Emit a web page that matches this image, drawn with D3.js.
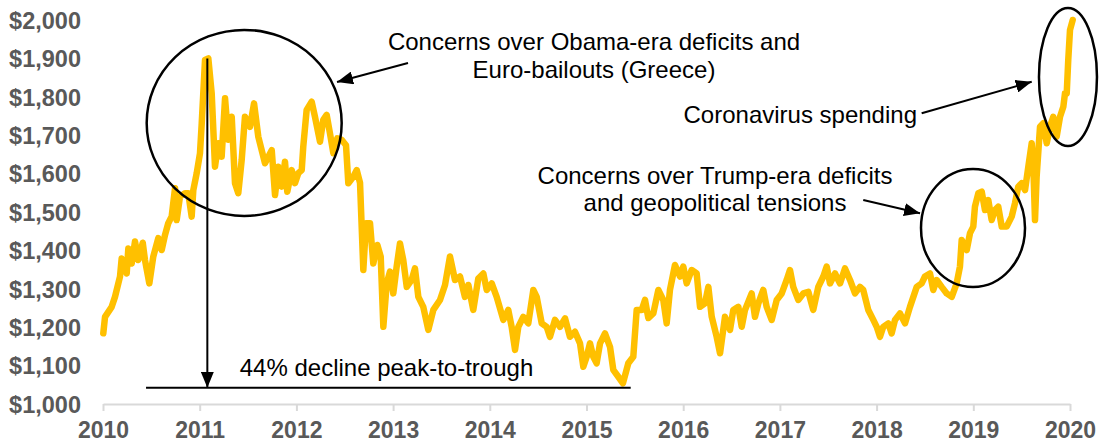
<!DOCTYPE html>
<html>
<head>
<meta charset="utf-8">
<script src="https://cdn.jsdelivr.net/npm/d3@7"></script>
<style>
    body { margin: 0; background: #fff; }
    svg { display: block; }
</style>
</head>
<body>
<script>
// data (x = position on the year axis, y = gold price in $)
const years = [
    2010.003, 2010.021, 2010.090, 2010.124, 2010.176, 2010.193, 2010.245, 2010.262, 2010.297, 2010.331,
    2010.365, 2010.411, 2010.434, 2010.479, 2010.520, 2010.572, 2010.607, 2010.641, 2010.675, 2010.710,
    2010.745, 2010.762, 2010.796, 2010.848, 2010.882, 2010.917, 2010.934, 2010.969, 2011.003, 2011.021,
    2011.055, 2011.089, 2011.124, 2011.158, 2011.192, 2011.227, 2011.262, 2011.296, 2011.331, 2011.365,
    2011.399, 2011.434, 2011.468, 2011.520, 2011.562, 2011.606, 2011.675, 2011.745, 2011.779, 2011.813,
    2011.848, 2011.882, 2011.906, 2011.951, 2011.985, 2012.020, 2012.055, 2012.071, 2012.106, 2012.158,
    2012.192, 2012.244, 2012.278, 2012.313, 2012.347, 2012.382, 2012.423, 2012.468, 2012.513, 2012.537,
    2012.588, 2012.624, 2012.658, 2012.692, 2012.720, 2012.761, 2012.795, 2012.837, 2012.872, 2012.899,
    2012.934, 2012.968, 2013.002, 2013.037, 2013.071, 2013.105, 2013.141, 2013.192, 2013.226, 2013.261,
    2013.312, 2013.364, 2013.416, 2013.485, 2013.537, 2013.588, 2013.640, 2013.692, 2013.743, 2013.778,
    2013.829, 2013.881, 2013.933, 2013.968, 2014.020, 2014.071, 2014.140, 2014.191, 2014.226, 2014.261,
    2014.295, 2014.346, 2014.398, 2014.450, 2014.485, 2014.537, 2014.588, 2014.622, 2014.674, 2014.726,
    2014.778, 2014.829, 2014.881, 2014.933, 2014.967, 2015.002, 2015.036, 2015.070, 2015.105, 2015.140,
    2015.191, 2015.243, 2015.277, 2015.329, 2015.377, 2015.432, 2015.484, 2015.519, 2015.571, 2015.605,
    2015.639, 2015.691, 2015.743, 2015.794, 2015.829, 2015.863, 2015.915, 2015.967, 2016.001, 2016.036,
    2016.088, 2016.139, 2016.174, 2016.225, 2016.260, 2016.295, 2016.346, 2016.381, 2016.432, 2016.484,
    2016.518, 2016.570, 2016.605, 2016.639, 2016.708, 2016.742, 2016.777, 2016.828, 2016.863, 2016.915,
    2016.967, 2017.019, 2017.070, 2017.104, 2017.138, 2017.190, 2017.242, 2017.294, 2017.345, 2017.397,
    2017.449, 2017.484, 2017.518, 2017.570, 2017.622, 2017.673, 2017.725, 2017.777, 2017.828, 2017.862,
    2017.914, 2017.966, 2018.001, 2018.035, 2018.069, 2018.121, 2018.156, 2018.190, 2018.242, 2018.294,
    2018.345, 2018.415, 2018.466, 2018.500, 2018.552, 2018.586, 2018.621, 2018.673, 2018.725, 2018.777,
    2018.828, 2018.862, 2018.880, 2018.932, 2018.966, 2019.000, 2019.017, 2019.052, 2019.087, 2019.121,
    2019.155, 2019.190, 2019.224, 2019.258, 2019.294, 2019.345, 2019.397, 2019.431, 2019.465, 2019.500,
    2019.535, 2019.569, 2019.604, 2019.621, 2019.638, 2019.655, 2019.690, 2019.724, 2019.759, 2019.793,
    2019.827, 2019.862, 2019.897, 2019.931, 2019.948, 2019.966, 2019.982, 2020.000, 2020.028
];
const prices = [
    1184, 1227, 1253, 1279, 1332, 1379, 1340, 1405, 1366, 1423,
    1375, 1420, 1375, 1314, 1384, 1432, 1401, 1440, 1471, 1488,
    1562, 1479, 1540, 1549, 1549, 1488, 1557, 1601, 1653, 1731,
    1896, 1900, 1809, 1618, 1679, 1644, 1796, 1688, 1748, 1575,
    1549, 1635, 1748, 1722, 1783, 1696, 1627, 1661, 1544, 1618,
    1566, 1631, 1553, 1609, 1575, 1601, 1609, 1670, 1766, 1787,
    1748, 1683, 1740, 1753, 1705, 1653, 1692, 1688, 1674, 1575,
    1592, 1609, 1576, 1349, 1471, 1471, 1366, 1414, 1384, 1201,
    1314, 1345, 1288, 1358, 1418, 1375, 1305, 1323, 1353, 1279,
    1253, 1193, 1245, 1271, 1310, 1384, 1323, 1332, 1279, 1310,
    1245, 1327, 1340, 1297, 1314, 1279, 1219, 1245, 1201, 1141,
    1201, 1227, 1210, 1297, 1279, 1210, 1201, 1175, 1219, 1201,
    1223, 1175, 1188, 1158, 1097, 1123, 1158, 1123, 1106, 1158,
    1184, 1149, 1089, 1071, 1054, 1106, 1123, 1245, 1245, 1271,
    1224, 1236, 1297, 1271, 1210, 1297, 1362, 1332, 1358, 1314,
    1349, 1340, 1253, 1262, 1305, 1227, 1175, 1132, 1227, 1193,
    1245, 1253, 1201, 1245, 1288, 1227, 1262, 1297, 1253, 1219,
    1271, 1288, 1323, 1349, 1305, 1271, 1288, 1292, 1245, 1305,
    1332, 1358, 1314, 1340, 1314, 1353, 1323, 1288, 1305, 1297,
    1245, 1219, 1201, 1175, 1201, 1210, 1184, 1219, 1236, 1210,
    1253, 1305, 1314, 1332, 1340, 1297, 1323, 1305, 1288, 1279,
    1314, 1358, 1427, 1401, 1445, 1462, 1514, 1549, 1553, 1505,
    1531, 1479, 1505, 1514, 1462, 1462, 1488, 1523, 1566, 1575,
    1557, 1618, 1679, 1618, 1479, 1592, 1722, 1731, 1679, 1722,
    1748, 1696, 1748, 1774, 1809, 1809, 1896, 1974, 2000
];
const yearTicks = [2010, 2011, 2012, 2013, 2014, 2015, 2016, 2017, 2018, 2019, 2020];
const priceTicks = [1000, 1100, 1200, 1300, 1400, 1500, 1600, 1700, 1800, 1900, 2000];

// create svg canvas
const canvWidth = 1099, canvHeight = 444;
const svg = d3.select("body").append("svg")
    .attr("width", canvWidth)
    .attr("height", canvHeight);

const tickColor = "#595959";
const gold = "#FFC000";

// 1. scales
const xScale = d3.scaleLinear()
    .domain([2010, 2020])
    .range([103, 1070]);

const yScale = d3.scaleLinear()
    .domain([1000, 2000])
    .range([404, 20]);

// 2. axes
const xAxis = d3.axisBottom(xScale)
    .tickValues(yearTicks)
    .tickFormat(d3.format("d"))
    .tickSize(7)
    .tickSizeOuter(0)
    .tickPadding(11);

const gx = svg.append("g")
    .attr("id", "x-axis")
    .attr("transform", "translate(0," + yScale(1000) + ")")
    .call(xAxis);
gx.select(".domain").attr("stroke", "#d9d9d9").attr("stroke-width", 2);
gx.selectAll(".tick line").attr("stroke", "#d9d9d9").attr("stroke-width", 2);
gx.selectAll(".tick text")
    .attr("fill", tickColor)
    .attr("font-family", "Liberation Sans, Arial, sans-serif")
    .attr("font-weight", "bold")
    .attr("font-size", "23px");

const yAxis = d3.axisLeft(yScale)
    .tickValues(priceTicks)
    .tickFormat(d3.format("$,"))
    .tickSize(0)
    .tickPadding(0);

const gy = svg.append("g")
    .attr("id", "y-axis")
    .attr("transform", "translate(81,0)")
    .call(yAxis);
gy.select(".domain").remove();
gy.selectAll(".tick text")
    .attr("fill", tickColor)
    .attr("font-family", "Liberation Sans, Arial, sans-serif")
    .attr("font-weight", "bold")
    .attr("font-size", "23.5px")
    .attr("dy", "0.35em");

// 3. price line
const series = years.map((d, i) => ({year: d, price: prices[i]}));
const line = d3.line()
    .x(d => xScale(d.year))
    .y(d => yScale(d.price));

svg.append("path")
    .datum(series)
    .attr("fill", "none")
    .attr("stroke", gold)
    .attr("stroke-width", 6.5)
    .attr("stroke-linejoin", "round")
    .attr("stroke-linecap", "round")
    .attr("d", line);

// 4. annotations
svg.append("defs").append("marker")
    .attr("id", "arrow")
    .attr("markerUnits", "userSpaceOnUse")
    .attr("markerWidth", 17)
    .attr("markerHeight", 13)
    .attr("refX", 16)
    .attr("refY", 6.5)
    .attr("orient", "auto")
    .append("path")
    .attr("d", "M0,0 L16,6.5 L0,13 Z")
    .attr("fill", "black");

const ann = svg.append("g").attr("id", "annotations");

function arrow(x1, y1, x2, y2) {
    ann.append("line")
        .attr("x1", xScale(x1)).attr("y1", yScale(y1))
        .attr("x2", xScale(x2)).attr("y2", yScale(y2))
        .attr("stroke", "black")
        .attr("stroke-width", 2)
        .attr("marker-end", "url(#arrow)");
}

function ellipse(cx, cy, rx, ry) {
    ann.append("ellipse")
        .attr("cx", xScale(cx)).attr("cy", yScale(cy))
        .attr("rx", rx).attr("ry", ry)
        .attr("fill", "none")
        .attr("stroke", "black")
        .attr("stroke-width", 2.5);
}

function label(lines, x, y, anchor) {
    const t = ann.append("text")
        .attr("font-family", "Liberation Sans, Arial, sans-serif")
        .attr("font-size", "24px")
        .attr("fill", "black")
        .style("text-anchor", anchor);
    lines.forEach((s, i) => {
        t.append("tspan")
            .attr("x", x)
            .attr("y", y + i * 27.5)
            .text(s);
    });
}

// peak-to-trough
ellipse(2011.46, 1732, 97.5, 93);
arrow(2011.079, 1900, 2011.079, 1042);
ann.append("line")
    .attr("x1", xScale(2010.445)).attr("x2", xScale(2015.457))
    .attr("y1", yScale(1042)).attr("y2", yScale(1042))
    .attr("stroke", "black")
    .attr("stroke-width", 2);
label(["44% decline peak-to-trough"], 386.5, 376, "middle");

// Obama-era
arrow(2013.154, 1888, 2012.42, 1838.5);
label(["Concerns over Obama-era deficits and", "Euro-bailouts (Greece)"], 594, 50, "middle");

// Trump-era
ellipse(2018.997, 1458.3, 52, 59);
arrow(2017.862, 1531, 2018.449, 1496.6);
label(["Concerns over Trump-era deficits", "and geopolitical tensions"], 715, 183.5, "middle");

// coronavirus
ellipse(2019.979, 1851.6, 29, 69);
arrow(2018.466, 1757, 2019.604, 1839);
label(["Coronavirus spending"], 917, 123, "end");
</script>
</body>
</html>
